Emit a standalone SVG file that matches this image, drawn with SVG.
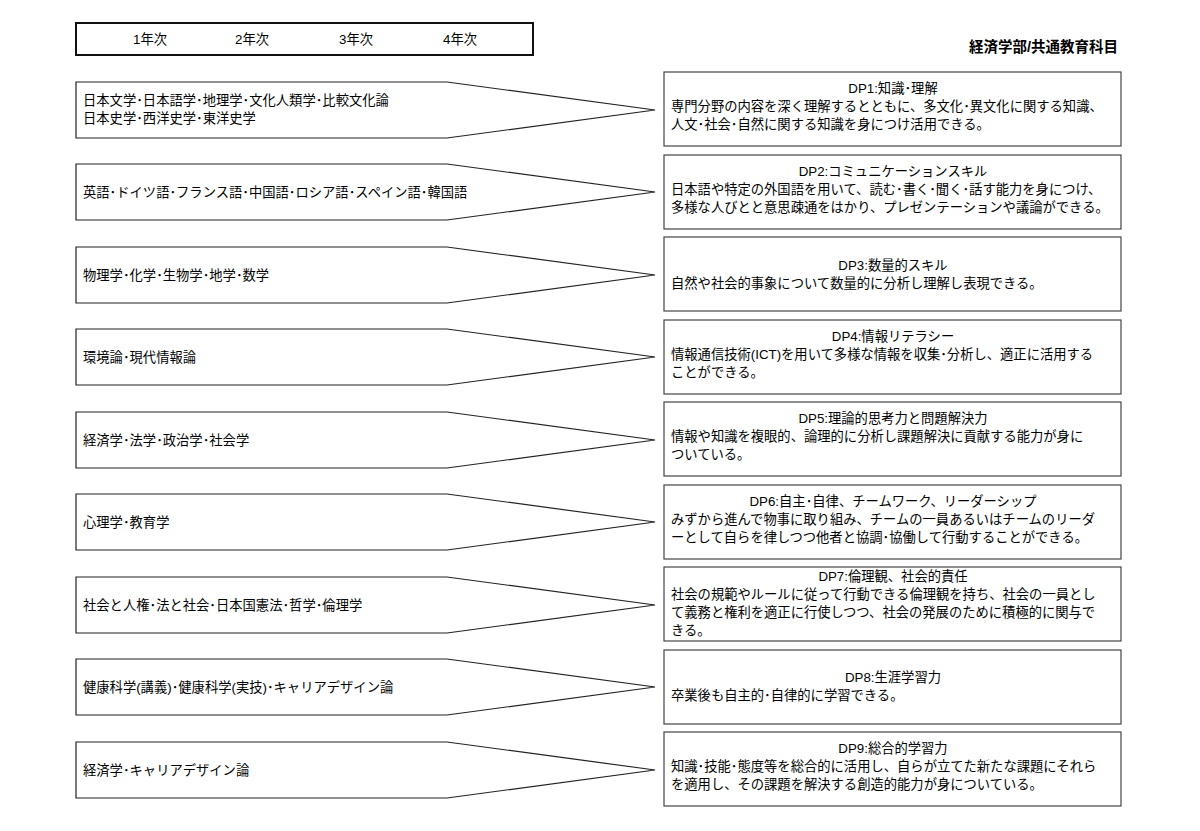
<svg xmlns="http://www.w3.org/2000/svg" width="1200" height="831" viewBox="0 0 1200 831">
<style>
text{font-family:"Liberation Sans","Noto Sans CJK JP",sans-serif;font-size:13.3px;fill:#000}
.c{text-anchor:middle}
.a{fill:#fff;stroke:#222;stroke-width:1.2}
.b{fill:#fff;stroke:#444;stroke-width:1.2}
.h{font-size:14.5px;font-weight:bold;text-anchor:end}
</style>
<rect width="1200" height="831" fill="#fff"/>
<g id="header">
<rect x="76" y="23" width="457" height="32" fill="#fff" stroke="#111" stroke-width="2"/>
<text x="150" y="44" class="c">1年次</text><text x="252" y="44" class="c">2年次</text><text x="356" y="44" class="c">3年次</text><text x="460" y="44" class="c">4年次</text>
</g>
<text x="1118" y="52" class="h">経済学部/共通教育科目</text>
<g id="connectors">
<polygon class="a" points="76,82 447,82 655,110 447,138 76,138"/>
<polygon class="a" points="76,164 447,164 655,192 447,220 76,220"/>
<polygon class="a" points="76,247 447,247 655,275 447,303 76,303"/>
<polygon class="a" points="76,329 447,329 655,357 447,385 76,385"/>
<polygon class="a" points="76,412 447,412 655,440 447,468 76,468"/>
<polygon class="a" points="76,494 447,494 655,522 447,550 76,550"/>
<polygon class="a" points="76,577 447,577 655,605 447,633 76,633"/>
<polygon class="a" points="76,659 447,659 655,687 447,715 76,715"/>
<polygon class="a" points="76,742 447,742 655,770 447,798 76,798"/>
</g>
<g id="subjects">
<text x="83" y="105">日本文学･日本語学･地理学･文化人類学･比較文化論</text><text x="83" y="123">日本史学･西洋史学･東洋史学</text>
<text x="83" y="197">英語･ドイツ語･フランス語･中国語･ロシア語･スペイン語･韓国語</text>
<text x="83" y="280">物理学･化学･生物学･地学･数学</text>
<text x="83" y="362">環境論･現代情報論</text>
<text x="83" y="445">経済学･法学･政治学･社会学</text>
<text x="83" y="527">心理学･教育学</text>
<text x="83" y="610">社会と人権･法と社会･日本国憲法･哲学･倫理学</text>
<text x="83" y="692">健康科学(講義)･健康科学(実技)･キャリアデザイン論</text>
<text x="83" y="775">経済学･キャリアデザイン論</text>
</g>
<g id="dp1"><rect class="b" x="664" y="72" width="457" height="74"/>
<text x="893" y="93" class="c">DP1:知識･理解</text><text x="671" y="111">専門分野の内容を深く理解するとともに、多文化･異文化に関する知識、</text><text x="671" y="129">人文･社会･自然に関する知識を身につけ活用できる。</text></g>
<g id="dp2"><rect class="b" x="664" y="155" width="457" height="74"/>
<text x="893" y="176" class="c">DP2:コミュニケーションスキル</text><text x="671" y="194">日本語や特定の外国語を用いて、読む･書く･聞く･話す能力を身につけ、</text><text x="671" y="212">多様な人びとと意思疎通をはかり、プレゼンテーションや議論ができる。</text></g>
<g id="dp3"><rect class="b" x="664" y="237" width="457" height="74"/>
<text x="893" y="270" class="c">DP3:数量的スキル</text><text x="671" y="288">自然や社会的事象について数量的に分析し理解し表現できる。</text></g>
<g id="dp4"><rect class="b" x="664" y="320" width="457" height="74"/>
<text x="893" y="341" class="c">DP4:情報リテラシー</text><text x="671" y="359">情報通信技術(ICT)を用いて多様な情報を収集･分析し、適正に活用する</text><text x="671" y="377">ことができる。</text></g>
<g id="dp5"><rect class="b" x="664" y="402" width="457" height="74"/>
<text x="893" y="423" class="c">DP5:理論的思考力と問題解決力</text><text x="671" y="441">情報や知識を複眼的、論理的に分析し課題解決に貢献する能力が身に</text><text x="671" y="459">ついている。</text></g>
<g id="dp6"><rect class="b" x="664" y="485" width="457" height="74"/>
<text x="893" y="506" class="c">DP6:自主･自律、チームワーク、リーダーシップ</text><text x="671" y="524">みずから進んで物事に取り組み、チームの一員あるいはチームのリーダ</text><text x="671" y="542">ーとして自らを律しつつ他者と協調･協働して行動することができる。</text></g>
<g id="dp7"><rect class="b" x="664" y="567" width="457" height="74"/>
<text x="893" y="581" class="c">DP7:倫理観、社会的責任</text><text x="671" y="599">社会の規範やルールに従って行動できる倫理観を持ち、社会の一員とし</text><text x="671" y="617">て義務と権利を適正に行使しつつ、社会の発展のために積極的に関与で</text><text x="671" y="635">きる。</text></g>
<g id="dp8"><rect class="b" x="664" y="650" width="457" height="74"/>
<text x="893" y="682" class="c">DP8:生涯学習力</text><text x="671" y="700">卒業後も自主的･自律的に学習できる。</text></g>
<g id="dp9"><rect class="b" x="664" y="732" width="457" height="74"/>
<text x="893" y="753" class="c">DP9:総合的学習力</text><text x="671" y="771">知識･技能･態度等を総合的に活用し、自らが立てた新たな課題にそれら</text><text x="671" y="789">を適用し、その課題を解決する創造的能力が身についている。</text></g>
</svg>
